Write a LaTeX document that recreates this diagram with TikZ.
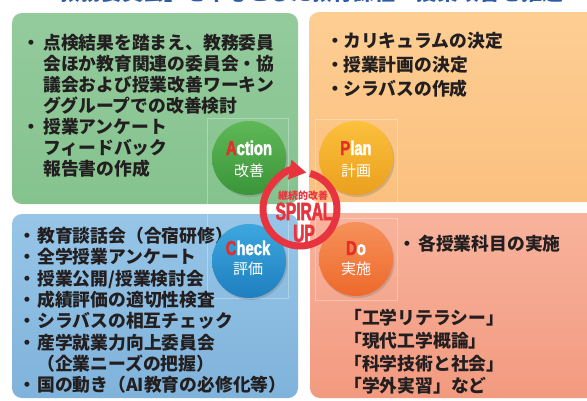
\documentclass[tikz,border=0pt]{standalone}
\usepackage{fontspec}
\setmainfont{Noto Sans CJK JP}
\newfontfamily\condfont[FakeStretch=0.74,FakeBold=2]{Liberation Sans}
\newfontfamily\spiralfont[FakeStretch=0.62,FakeBold=2]{Liberation Sans}
\usetikzlibrary{shadows,arrows.meta}
\definecolor{greenA}{HTML}{94CB9D}
\definecolor{greenB}{HTML}{85C38E}
\definecolor{orangeA}{HTML}{FDCE93}
\definecolor{orangeB}{HTML}{FBC07F}
\definecolor{blueA}{HTML}{96C5E7}
\definecolor{blueB}{HTML}{80B3DB}
\definecolor{salA}{HTML}{F8B39C}
\definecolor{salB}{HTML}{F29A80}
\definecolor{textdark}{HTML}{231F20}
\definecolor{phred}{HTML}{E52D2D}
\definecolor{ringred}{HTML}{E8343F}
\definecolor{titleblue}{HTML}{2E5BA8}
\definecolor{actA}{HTML}{5FB856}
\definecolor{actB}{HTML}{3A953A}
\definecolor{plnA}{HTML}{FBC03C}
\definecolor{plnB}{HTML}{EAA01E}
\definecolor{chkA}{HTML}{3CA7DD}
\definecolor{chkB}{HTML}{1F7FC0}
\definecolor{doA}{HTML}{F6915A}
\definecolor{doB}{HTML}{EE692B}
\begin{document}
\begin{tikzpicture}[x=1pt,y=-1pt,
  box/.style={rounded corners=10pt},
  txt/.style={anchor=base west, inner sep=0, font=\fontsize{17.8}{21}\selectfont\bfseries, text=textdark},
  bul/.style={anchor=base, inner sep=0, font=\fontsize{17.8}{21}\selectfont\bfseries, text=textdark},
  phase/.style={circle, minimum size=74pt, inner sep=0, drop shadow={opacity=0.35, shadow xshift=1.5pt, shadow yshift=-2pt}},
  phen/.style={anchor=base, inner sep=0, font=\condfont\bfseries\fontsize{20}{20}\selectfont, text=white},
  phjp/.style={anchor=base, inner sep=0, font=\fontsize{15}{16}\selectfont, text=white},
  frame/.style={draw=white, draw opacity=0.3, line width=0.6pt},
]
\useasboundingbox (0,0) rectangle (587,400);
\clip (0,0) rectangle (587,400);
\fill[white] (0,0) rectangle (587,400);

% title (cut off at top)
\node[anchor=base west, inner sep=0, font=\fontsize{21}{22}\selectfont\bfseries, text=titleblue] (title) at (38,0.5) {「教務委員会」を中心とした教育課程・授業改善を推進};

% boxes
\shade[box, top color=greenA, bottom color=greenB] (12,13) rectangle (298,204);
\shade[box, top color=orangeA, bottom color=orangeB] (309,12) rectangle (600,202);
\shade[box, top color=blueA, bottom color=blueB] (12,214) rectangle (298,398);
\shade[box, top color=salA, bottom color=salB] (310,213) rectangle (600,398);

% faint frames
\draw[frame] (207,205) -- (207,118) -- (288,118) -- (288,205);
\draw[frame] (315,203) -- (315,119) -- (397,119) -- (397,203);
\draw[frame] (207,212) -- (207,298) -- (288,298) -- (288,212);
\draw[frame] (315,218) rectangle (397,300);

% Action text
\node[bul] (ab1) at (31,49) {・};
\node[txt] (a1) at (43,49) {点検結果を踏まえ、教務委員};
\node[txt] (a2) at (43,70) {会ほか教育関連の委員会・協};
\node[txt] (a3) at (43,91) {議会および授業改善ワーキン};
\node[txt] (a4) at (43,112) {ググループでの改善検討};
\node[bul] (ab2) at (31,133) {・};
\node[txt] (a5) at (43,133) {授業アンケート};
\node[txt] (a6) at (43,154) {フィードバック};
\node[txt] (a7) at (43,175) {報告書の作成};

% Plan text
\node[bul] (pb1) at (335,47) {・};
\node[txt] (p1) at (343,47) {カリキュラムの決定};
\node[bul] (pb2) at (335,71) {・};
\node[txt] (p2) at (343,71) {授業計画の決定};
\node[bul] (pb3) at (335,95) {・};
\node[txt] (p3) at (343,95) {シラバスの作成};

% Check text
\node[bul] (cb1) at (27,242) {・};
\node[txt] (c1) at (37,242) {教育談話会（合宿研修）};
\node[bul] (cb2) at (27,263) {・};
\node[txt] (c2) at (37,263) {全学授業アンケート};
\node[bul] (cb3) at (27,285) {・};
\node[txt] (c3) at (37,285) {授業公開/授業検討会};
\node[bul] (cb4) at (27,306) {・};
\node[txt] (c4) at (37,306) {成績評価の適切性検査};
\node[bul] (cb5) at (27,327) {・};
\node[txt] (c5) at (37,327) {シラバスの相互チェック};
\node[bul] (cb6) at (27,349) {・};
\node[txt] (c6) at (37,349) {産学就業力向上委員会};
\node[txt] (c7) at (37,370) {（企業ニーズの把握）};
\node[bul] (cb8) at (27,391) {・};
\node[txt] (c8) at (37,391) {国の動き（AI教育の必修化等）};

% Do text
\node[bul] (db1) at (407,250) {・};
\node[txt] (d1) at (418,250) {各授業科目の実施};
\node[txt] (d2) at (344,324) {「工学リテラシー」};
\node[txt] (d3) at (344,347) {「現代工学概論」};
\node[txt] (d4) at (344,370) {「科学技術と社会」};
\node[txt] (d5) at (344,392) {「学外実習」など};

% phase circles
\node[phase, top color=actA, bottom color=actB] (act) at (249,158) {};
\node[phase, top color=plnA, bottom color=plnB] (pln) at (356,158) {};
\node[phase, top color=chkA, bottom color=chkB] (chk) at (249,261) {};
\node[phase, top color=doA, bottom color=doB] (dox) at (356,259) {};

\node[phen] (actl) at (249,155) {{\color{phred}A}ction};
\node[phjp] (actj) at (249,176) {改善};
\node[phen] (plnl) at (356,155) {{\color{phred}P}lan};
\node[phjp] (plnj) at (356,176) {計画};
\node[phen] (chkl) at (248,255) {{\color{phred}C}heck};
\node[phjp] (chkj) at (248,274) {評価};
\node[phen] (doxl) at (356,255) {{\color{phred}D}o};
\node[phjp] (doxj) at (356,274) {実施};

% spiral ring
\coordinate (sp) at (300,209);
\draw[ringred, line width=7pt, -{Triangle[length=17pt,width=19pt]}]
  (sp) ++(-74:37) arc[start angle=-74, end angle=280, radius=37];
\node[anchor=base, inner sep=0, text=ringred, font=\fontsize{10}{11}\selectfont\bfseries] (kz) at (303,199) {継続的改善};
\node[anchor=base, inner sep=0, text=ringred, font=\spiralfont\bfseries\fontsize{25}{25}\selectfont] (spr) at (304,220) {SPIRAL};
\node[anchor=base, inner sep=0, text=ringred, font=\spiralfont\bfseries\fontsize{25}{25}\selectfont] (up) at (304,242) {UP};
\end{tikzpicture}
\end{document}
